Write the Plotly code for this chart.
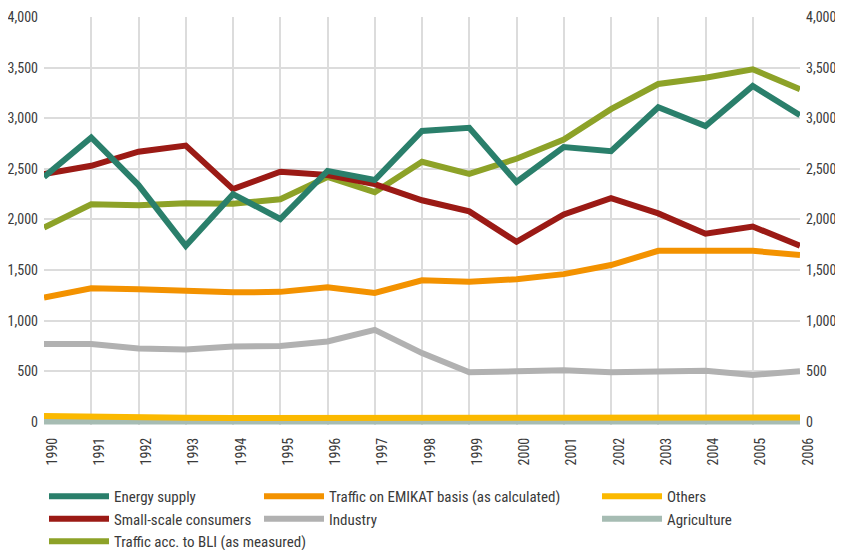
import plotly.graph_objects as go

years = list(range(1990, 2007))

energy_supply = [2420, 2810, 2340, 1740, 2250, 2005, 2480, 2390, 2875, 2905, 2370, 2715, 2675, 3108, 2923, 3318, 3030]
small_scale = [2450, 2530, 2670, 2730, 2300, 2472, 2440, 2350, 2190, 2080, 1780, 2050, 2210, 2060, 1860, 1930, 1740]
traffic_bli = [1920, 2150, 2140, 2160, 2155, 2200, 2420, 2270, 2570, 2450, 2600, 2790, 3090, 3338, 3400, 3483, 3286]
traffic_emikat = [1230, 1320, 1310, 1290, 1280, 1285, 1330, 1275, 1400, 1385, 1410, 1460, 1550, 1690, 1690, 1690, 1650]
industry = [770, 770, 725, 715, 745, 750, 795, 910, 680, 490, 500, 510, 490, 500, 505, 465, 500]
others = [60, 50, 44, 42, 40, 40, 40, 42, 40, 38, 40, 42, 44, 44, 42, 42, 44]
agriculture = [5, 5, 5, 5, 5, 5, 5, 5, 5, 5, 5, 5, 5, 5, 5, 5, 5]

y_ticks = [0, 500, 1000, 1500, 2000, 2500, 3000, 3500, 4000]
y_labels = [f"{v:,}" for v in y_ticks]

FONT = "Roboto Condensed, Roboto, sans-serif"

series = [
    ("Agriculture", agriculture, "#a6bcb3", "legend3"),
    ("Others", others, "#fbb900", "legend3"),
    ("Industry", industry, "#b1b1b1", "legend2"),
    ("Traffic on EMIKAT basis (as calculated)", traffic_emikat, "#f39200", "legend2"),
    ("Traffic acc. to BLI (as measured)", traffic_bli, "#8da228", "legend"),
    ("Small-scale consumers", small_scale, "#9b1a15", "legend"),
    ("Energy supply", energy_supply, "#2a7f6b", "legend"),
]
legend_rank = {
    "Energy supply": 1, "Small-scale consumers": 2, "Traffic acc. to BLI (as measured)": 3,
    "Traffic on EMIKAT basis (as calculated)": 1, "Industry": 2,
    "Others": 1, "Agriculture": 2,
}

fig = go.Figure()
for name, vals, color, leg in series:
    fig.add_trace(go.Scatter(x=years, y=vals, mode="lines", name=name, legend=leg,
                             legendrank=legend_rank[name],
                             line=dict(color=color, width=6)))

# invisible copy so the right-hand axis is drawn
fig.add_trace(go.Scatter(x=years, y=energy_supply, yaxis="y2", mode="lines",
                         line=dict(width=0), showlegend=False, hoverinfo="skip", opacity=0))

axis_font = dict(family=FONT, size=14, color="#3a3a3a")
leg_common = dict(font=dict(family=FONT, size=15, color="#3a3a3a"), orientation="v",
                  yanchor="top", xanchor="left", tracegroupgap=0, itemwidth=60,
                  bgcolor="rgba(0,0,0,0)")

y_range = [-30, 4000]  # a little room below zero so the bottom lines are not cut

# page body adds an 8px margin, so the figure is a bit smaller than the window
fig.update_layout(
    width=835, height=542,
    margin=dict(l=36, r=43, t=9, b=125, autoexpand=False),
    plot_bgcolor="white", paper_bgcolor="white",
    xaxis=dict(range=[1990, 2006], tickvals=years, ticktext=[str(y) for y in years],
               tickangle=-90, tickfont=axis_font, showgrid=True, gridcolor="#dcdcdc",
               gridwidth=1.5, zeroline=False, showline=False, ticks="", automargin=False,
               ticklabelstandoff=9, ticklabelshift=8),
    yaxis=dict(range=y_range, tickvals=y_ticks, ticktext=y_labels, tickfont=axis_font,
               showgrid=True, gridcolor="#dcdcdc", gridwidth=1.5, zeroline=False, ticks="",
               automargin=False, ticklabelstandoff=5),
    yaxis2=dict(range=y_range, tickvals=y_ticks, ticktext=y_labels, tickfont=axis_font,
                overlaying="y", side="right", showgrid=False, zeroline=False, ticks="",
                automargin=False, ticklabelstandoff=5),
    legend=dict(x=0.0, y=-0.1348, **leg_common),
    legend2=dict(x=0.2844, y=-0.1348, **leg_common),
    legend3=dict(x=0.7315, y=-0.1348, **leg_common),
)

fig.write_html("out.html")
